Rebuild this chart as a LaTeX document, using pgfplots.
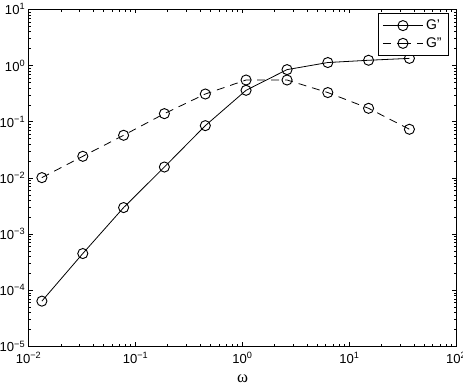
\documentclass[border=0pt]{standalone}
\usepackage{pgfplots}
\pgfplotsset{compat=1.18}
\usepackage{fontspec}
\setmainfont{Liberation Sans}
\newfontfamily\seriffont{Liberation Serif}
\begin{document}
\begin{tikzpicture}[x=1pt,y=1pt]
\begin{axis}[
  name=ax,
  scale only axis,
  width=321pt, height=253pt,
  xmode=log, ymode=log,
  xmin=0.01, xmax=100, ymin=1e-5, ymax=10,
  xtick={0.01,0.1,1,10,100},
  xticklabels={10\textsuperscript{−2},10\textsuperscript{−1},10\textsuperscript{0},10\textsuperscript{1},10\textsuperscript{2}},
  ytick={1e-5,1e-4,1e-3,1e-2,1e-1,1,10},
  yticklabels={10\textsuperscript{−5},10\textsuperscript{−4},10\textsuperscript{−3},10\textsuperscript{−2},10\textsuperscript{−1},10\textsuperscript{0},10\textsuperscript{1}},
  tick label style={font=\fontsize{9.8}{11}\selectfont},
  yticklabel style={xshift=1pt},
  xticklabel style={yshift=-1pt},
  tick align=inside,
  major tick length=3pt, minor tick length=1.8pt,
  tick style={black, line width=0.4pt},
  axis line style={line width=0.6pt},
  xlabel={\seriffont\fontsize{12.5}{14}\selectfont ω},
  xlabel style={yshift=-1.5pt},
  legend style={at={(1,1)}, xshift=-5.8pt, yshift=-3pt, anchor=north east, draw=black, line width=0.6pt,
    font=\fontsize{10.5}{12}\selectfont, row sep=0.5pt, inner xsep=3pt, inner ysep=2.5pt},
  legend cell align=left,
  legend image code/.code={\draw[#1] (0pt,0pt) -- (15pt,0pt) plot coordinates {(15pt,0pt)} -- (30pt,0pt);},
]
\addplot[black, line width=0.6pt, mark=o, mark size=3.8pt, mark options={solid, line width=0.7pt}] coordinates {
(0.0133,6.4e-5) (0.0321,4.5e-4) (0.0773,2.96e-3) (0.186,0.0156) (0.449,0.085)
(1.08,0.362) (2.61,0.845) (6.28,1.13) (15.1,1.24) (36.4,1.34)};
\addlegendentry{G'}
\addplot[black, line width=0.6pt, dash pattern=on 6pt off 4.5pt, mark=o, mark size=3.8pt, mark options={solid, line width=0.7pt}] coordinates {
(0.0133,0.0101) (0.0321,0.0242) (0.0773,0.0573) (0.186,0.139) (0.449,0.311)
(1.08,0.552) (2.61,0.552) (6.28,0.330) (15.1,0.173) (36.4,0.0733)};
\addlegendentry{G''}
\end{axis}
\pgfresetboundingbox
\useasboundingbox ([xshift=-21.5pt,yshift=-32.5pt]ax.south west) rectangle ([xshift=5pt,yshift=7pt]ax.north east);
\end{tikzpicture}
\end{document}
